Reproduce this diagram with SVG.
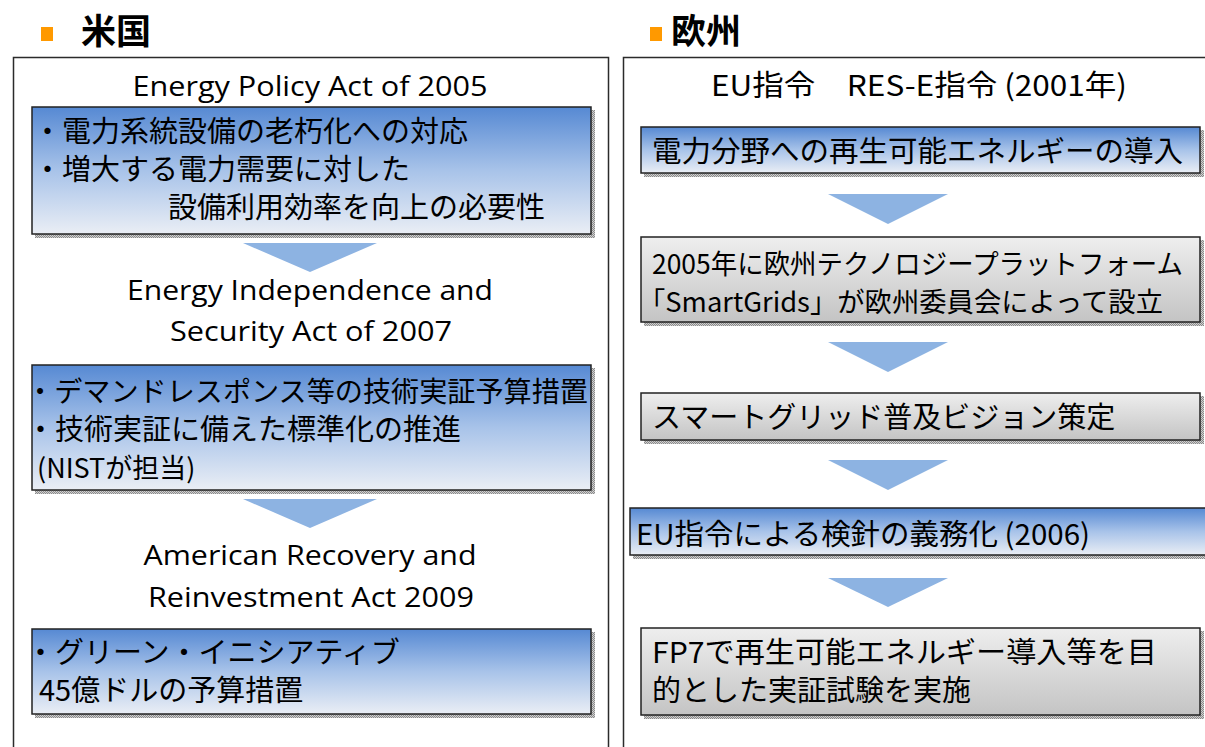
<svg xmlns="http://www.w3.org/2000/svg" width="1205" height="747" viewBox="0 0 1205 747">
<defs>
<linearGradient id="gBlue" x1="0" y1="0" x2="0" y2="1">
<stop offset="0" stop-color="#5689d3"/>
<stop offset="0.5" stop-color="#a8c3e9"/>
<stop offset="1" stop-color="#eaeef5"/>
</linearGradient>
<linearGradient id="gGray" x1="0" y1="0" x2="0" y2="1">
<stop offset="0" stop-color="#eeeeee"/>
<stop offset="1" stop-color="#c4c4c4"/>
</linearGradient>
<pattern id="dots" width="2" height="2" patternUnits="userSpaceOnUse">
<rect width="2" height="2" fill="#d0d0d0"/>
<rect width="1" height="1" fill="#8a8a8a"/>
<rect x="1" y="1" width="1" height="1" fill="#8a8a8a"/>
</pattern>
</defs>
<style>
.panel{fill:#ffffff;stroke:#2b2b2b;stroke-width:1.5}
.shadow{fill:url(#dots)}
.blue{fill:url(#gBlue);stroke:#222;stroke-width:1.5}
.gray{fill:url(#gGray);stroke:#222;stroke-width:1.5}
.jp{font-family:"Noto Sans CJK JP","Noto Sans",sans-serif;font-size:29px;fill:#000}
.en{font-family:"Open Sans","Noto Sans",sans-serif;font-size:28px;fill:#000;text-anchor:middle}
.head{font-family:"Noto Sans CJK JP",sans-serif;font-size:35px;font-weight:bold;fill:#000}
.arrow{fill:#8db3e2}
.bullet{fill:#ff9900}
</style>
<rect width="1205" height="747" fill="#ffffff"/>

<g id="header-us">
<rect class="bullet" x="41" y="27" width="12" height="14"/>
<text class="head" x="81" y="44">米国</text>
</g>
<g id="header-eu">
<rect class="bullet" x="650" y="27" width="12" height="14"/>
<text class="head" x="671" y="44">欧州</text>
</g>

<g id="panel-us">
<rect class="panel" x="13.5" y="57.5" width="595" height="710"/>
</g>
<g id="panel-eu">
<rect class="panel" x="623.5" y="57.5" width="610" height="710"/>
</g>

<g id="us-title1"><text class="en" x="310" y="96" textLength="355" lengthAdjust="spacingAndGlyphs">Energy Policy Act of 2005</text></g>
<g id="us-box1">
<rect class="shadow" x="35" y="110" width="560" height="128"/>
<rect class="blue" x="32" y="107" width="559" height="127"/>
<text class="jp" x="33" y="142">・電力系統設備の老朽化への対応</text>
<text class="jp" x="33" y="180">・増大する電力需要に対した</text>
<text class="jp" x="168" y="218">設備利用効率を向上の必要性</text>
</g>
<g id="us-title2">
<text class="en" x="310" y="300" textLength="366" lengthAdjust="spacingAndGlyphs">Energy Independence and</text>
<text class="en" x="311" y="341" textLength="282" lengthAdjust="spacingAndGlyphs">Security Act of 2007</text>
</g>
<g id="us-box2">
<rect class="shadow" x="35" y="368" width="560" height="126"/>
<rect class="blue" x="32" y="365" width="559" height="125"/>
<text class="jp" x="26" y="402" style="font-size:28px" textLength="562" lengthAdjust="spacingAndGlyphs">・デマンドレスポンス等の技術実証予算措置</text>
<text class="jp" x="26" y="440">・技術実証に備えた標準化の推進</text>
<text class="jp" x="37" y="478" style="font-size:27px">(NISTが担当)</text>
</g>
<g id="us-title3">
<text class="en" x="310" y="565" textLength="333" lengthAdjust="spacingAndGlyphs">American Recovery and</text>
<text class="en" x="311" y="607" textLength="326" lengthAdjust="spacingAndGlyphs">Reinvestment Act 2009</text>
</g>
<g id="us-box3">
<rect class="shadow" x="35" y="632" width="560" height="86"/>
<rect class="blue" x="32" y="629" width="559" height="85"/>
<text class="jp" x="26" y="663">・グリーン・イニシアティブ</text>
<text class="jp" x="39" y="701">45億ドルの予算措置</text>
</g>

<g id="eu-title"><text class="jp" x="919" y="96" text-anchor="middle" textLength="416" lengthAdjust="spacingAndGlyphs">EU指令　RES-E指令 (2001年)</text></g>
<g id="eu-box1">
<rect class="shadow" x="644" y="130" width="560" height="47"/>
<rect class="blue" x="641" y="127" width="559" height="46"/>
<text class="jp" x="652" y="162" textLength="531" lengthAdjust="spacingAndGlyphs">電力分野への再生可能エネルギーの導入</text>
</g>
<g id="eu-box2">
<rect class="shadow" x="644" y="240" width="560" height="86"/>
<rect class="gray" x="641" y="237" width="559" height="85"/>
<text class="jp" x="652" y="274" style="font-size:27.5px" textLength="531" lengthAdjust="spacingAndGlyphs">2005年に欧州テクノロジープラットフォーム</text>
<text class="jp" x="638" y="312" style="font-size:27px" textLength="525" lengthAdjust="spacingAndGlyphs">「SmartGrids」が欧州委員会によって設立</text>
</g>
<g id="eu-box3">
<rect class="shadow" x="644" y="396" width="560" height="48"/>
<rect class="gray" x="641" y="393" width="559" height="47"/>
<text class="jp" x="652" y="428">スマートグリッド普及ビジョン策定</text>
</g>
<g id="eu-box4">
<rect class="shadow" x="633" y="511" width="600" height="48"/>
<rect class="blue" x="630" y="508" width="600" height="47"/>
<text class="jp" x="636" y="545" textLength="454" lengthAdjust="spacingAndGlyphs">EU指令による検針の義務化 (2006)</text>
</g>
<g id="eu-box5">
<rect class="shadow" x="644" y="631" width="560" height="88"/>
<rect class="gray" x="641" y="628" width="559" height="87"/>
<text class="jp" x="652" y="663" textLength="505" lengthAdjust="spacingAndGlyphs">FP7で再生可能エネルギー導入等を目</text>
<text class="jp" x="652" y="701">的とした実証試験を実施</text>
</g>

<g id="connectors">
<polygon class="arrow" points="243,243 377,243 310,272"/>
<polygon class="arrow" points="243,499 377,499 310,528"/>
<polygon class="arrow" points="828,194 948,194 888,224"/>
<polygon class="arrow" points="828,342 948,342 888,372"/>
<polygon class="arrow" points="828,460 948,460 888,490"/>
<polygon class="arrow" points="828,578 948,578 888,607"/>
</g>
</svg>
